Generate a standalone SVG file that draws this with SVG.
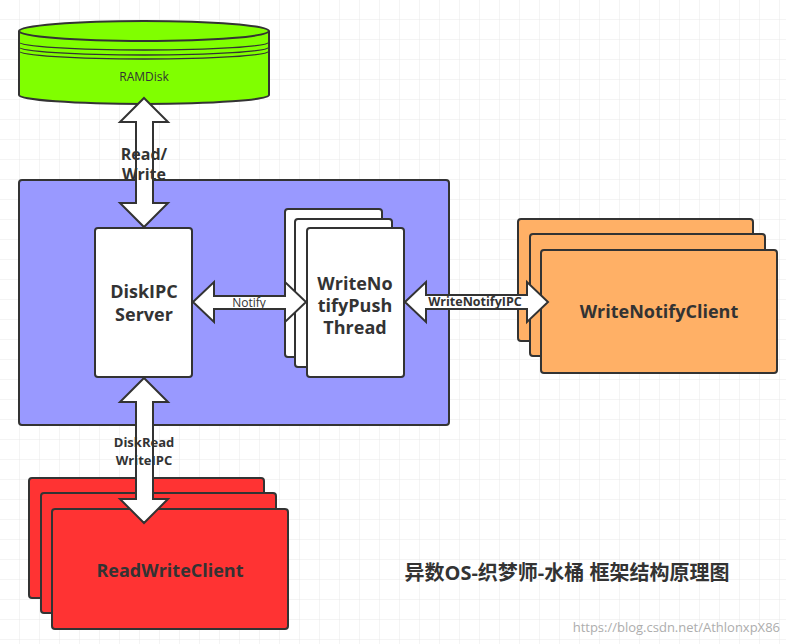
<svg xmlns="http://www.w3.org/2000/svg" width="786" height="644" viewBox="0 0 786 644">
<defs>
<pattern id="g" width="20" height="20" patternUnits="userSpaceOnUse"><path d="M20 0V20H0" fill="none" stroke="#e8e8e8" stroke-width="1"/></pattern>
<style>
.b{stroke:#333;stroke-width:2}
.w{fill:#fff}
.t{font-family:"Open Sans","Noto Sans CJK SC",sans-serif;fill:#333;text-anchor:middle}
.bd{font-weight:bold}
.ar{fill:#fff;stroke:#333;stroke-width:2;stroke-linejoin:miter}
</style>
</defs>
<rect width="786" height="644" fill="#fff"/>
<rect width="786" height="644" fill="url(#g)"/>
<g id="ramdisk">
<path class="b" d="M19 31V95A125 9 0 0 0 269 95V31" fill="#80ff00"/>
<ellipse class="b" cx="144" cy="31" rx="125" ry="10" fill="#80ff00"/>
<path d="M19 42A125 8 0 0 0 269 42M19 47A125 8 0 0 0 269 47M19 51A125 8 0 0 0 269 51" fill="none" stroke="#333" stroke-width="1.3"/>
<text class="t" x="144" y="81" font-size="12">RAMDisk</text>
</g>
<g id="container"><rect class="b" x="19" y="180" width="430" height="245" rx="3" fill="#9999ff"/></g>
<g id="diskipc"><rect class="b w" x="95" y="228" width="97" height="149" rx="3"/>
<text class="t bd" x="144" y="298" font-size="18">DiskIPC</text><text class="t bd" x="144" y="321" font-size="18">Server</text></g>
<g id="thread">
<rect class="b w" x="285" y="209" width="97" height="148" rx="3"/>
<rect class="b w" x="295" y="219" width="97" height="148" rx="3"/>
<rect class="b w" x="307" y="228" width="97" height="149" rx="3"/>
<text class="t bd" x="355" y="290" font-size="18">WriteNo</text>
<text class="t bd" x="355" y="312" font-size="18">tifyPush</text>
<text class="t bd" x="355" y="334" font-size="18">Thread</text></g>
<g id="writenotifyclient">
<rect class="b" x="518" y="219" width="235" height="122" rx="3" fill="#ffb066"/>
<rect class="b" x="530" y="234" width="235" height="122" rx="3" fill="#ffb066"/>
<rect class="b" x="541" y="250" width="236" height="123" rx="3" fill="#ffb066"/>
<text class="t bd" x="659" y="318" font-size="18">WriteNotifyClient</text></g>
<g id="readwriteclient">
<rect class="b" x="29" y="478" width="235" height="120" rx="3" fill="#ff3333"/>
<rect class="b" x="41" y="493" width="235" height="120" rx="3" fill="#ff3333"/>
<rect class="b" x="52" y="509" width="236" height="120" rx="3" fill="#ff3333"/>
<text class="t bd" x="170" y="577" font-size="18">ReadWriteClient</text></g>
<g id="connectors">
<path class="ar" d="M144 98L168 122H153V203H168L144 227L120 203H136V122H120Z"/>
<text class="t bd" x="144" y="160" font-size="16">Read/</text>
<text class="t bd" x="144" y="180" font-size="16">Write</text>
<path class="ar" d="M193 302L214 282V296H285V282L306 302L285 322V309H214V322Z"/>
<text class="t" x="249" y="307" font-size="12" fill="#555">Notify</text>
<path class="ar" d="M405 302L426 282V295H527V282L548 302L527 322V309H426V322Z"/>
<text class="t bd" x="475" y="306" font-size="12.5">WriteNotifyIPC</text>
<path class="ar" d="M144 378L168 402H153V499H168L144 523L120 499H136V402H120Z"/>
<text class="t bd" x="144" y="447" font-size="13">DiskRead</text>
<text class="t bd" x="144" y="465" font-size="13">WriteIPC</text>
</g>
<text class="t bd" x="567" y="580" font-size="20">异数OS-织梦师-水桶 框架结构原理图</text>
<text x="780" y="632" font-family="'Open Sans',sans-serif" font-size="13" fill="#999" text-anchor="end" opacity="0.8">https://blog.csdn.net/AthlonxpX86</text>
</svg>
